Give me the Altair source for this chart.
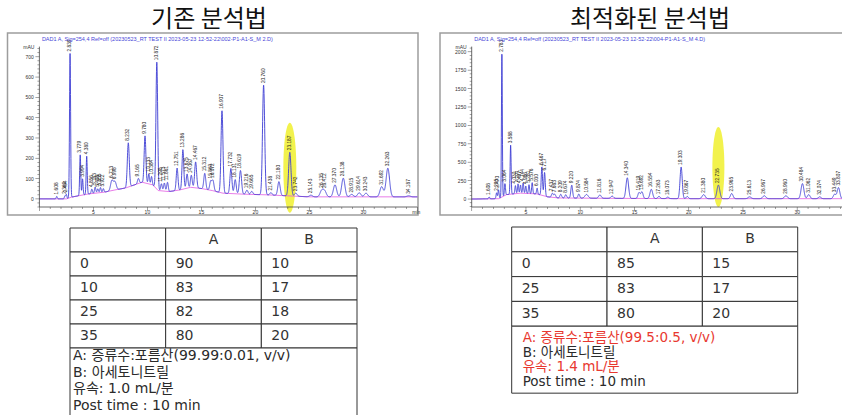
import numpy as np
import pandas as pd
import altair as alt

FONT_KR = "Noto Sans CJK KR"
FONT_TABLE = "DejaVu Sans, Noto Sans CJK KR"
FONT_AX = "Liberation Sans"

# ---------------- panel titles and detector headers ----------------
title_left = "기존 분석법"
title_right = "최적화된 분석법"
header_left = "DAD1 A, Sig=254,4 Ref=off (20230523_RT TEST II 2023-05-23 12-52-22\\002-P1-A1-S_M 2.D)"
header_right = "DAD1 A, Sig=254,4 Ref=off (20230523_RT TEST II 2023-05-23 12-52-22\\004-P1-A1-S_M 4.D)"

# ---------------- conventional method chromatogram ----------------
# retention time (min), peak height above baseline (mAU), peak width sigma (min)
left_rt = [1.608, 2.362, 2.494, 2.839, 3.779, 3.994, 4.380, 4.856, 5.163, 5.408,
           5.655, 5.922, 6.713, 6.998, 8.232, 9.165, 9.780, 10.133, 10.384, 10.872,
           11.298, 11.573, 11.861, 12.751, 13.286, 13.675, 14.067, 14.467, 15.312, 15.863,
           16.072, 16.907, 17.732, 18.131, 18.619, 19.216, 19.665, 20.760, 21.438, 22.180,
           23.187, 23.742, 25.143, 26.135, 26.412, 27.370, 28.138, 28.915, 29.614, 30.243,
           31.692, 32.263, 34.187]
left_height = [12, 15, 22, 710, 200, 80, 187, 22, 30, 20,
               25, 18, 50, 40, 218, 25, 232, 50, 40, 625,
               35, 40, 45, 110, 195, 70, 60, 128, 78, 45,
               50, 405, 124, 70, 116, 20, 15, 540, 12, 68,
               215, 15, 8, 30, 28, 59, 92, 12, 20, 18,
               50, 141, 5]
left_sigma = [0.05, 0.05, 0.05, 0.05, 0.05, 0.05, 0.05, 0.06, 0.06, 0.06,
              0.06, 0.06, 0.12, 0.12, 0.09, 0.08, 0.08, 0.06, 0.06, 0.08,
              0.07, 0.07, 0.07, 0.08, 0.08, 0.08, 0.08, 0.09, 0.09, 0.09,
              0.09, 0.09, 0.09, 0.09, 0.10, 0.10, 0.10, 0.10, 0.10, 0.11,
              0.11, 0.12, 0.14, 0.15, 0.15, 0.15, 0.15, 0.15, 0.15, 0.15,
              0.16, 0.16, 0.16]
# integration baseline knots (min, mAU)
left_base_t = [0, 2.5, 3.0, 4.5, 6.0, 7.0, 8.0, 9.5, 10.5, 11.0, 12.0, 13.0, 14.0, 15.0, 16.0, 17.0, 19.0, 21.0, 23.0, 25.0, 35.0]
left_base_v = [0, 0, 9, 24, 33, 44, 54, 82, 69, 41, 36, 44, 57, 51, 41, 28, 23, 20, 15, 10, 10]

# ---------------- optimized method chromatogram ----------------
right_rt = [1.608, 2.295, 2.470, 2.783, 3.064, 3.588, 4.030, 4.271, 4.497, 4.744,
            4.986, 5.281, 5.576, 6.030, 6.467, 6.717, 7.437, 7.663, 8.209, 8.674,
            9.220, 9.874, 10.584, 11.816, 12.947, 14.340, 15.419, 15.692, 16.554, 17.263,
            18.073, 19.303, 19.867, 21.380, 22.735, 23.965, 25.613, 26.967, 28.960, 30.484,
            31.062, 32.074, 33.449, 33.807]
right_height = [25, 80, 120, 1945, 160, 665, 110, 130, 110, 140,
                100, 120, 150, 80, 385, 320, 55, 45, 50, 45,
                175, 55, 50, 45, 30, 280, 80, 90, 125, 30,
                20, 430, 30, 55, 185, 70, 25, 40, 40, 205,
                55, 25, 60, 150]
right_sigma = [0.05, 0.05, 0.05, 0.04, 0.05, 0.045, 0.05, 0.05, 0.05, 0.05,
               0.05, 0.05, 0.05, 0.05, 0.06, 0.06, 0.08, 0.08, 0.08, 0.08,
               0.08, 0.08, 0.15, 0.12, 0.12, 0.12, 0.10, 0.10, 0.12, 0.10,
               0.10, 0.10, 0.10, 0.14, 0.13, 0.12, 0.14, 0.14, 0.14, 0.13,
               0.12, 0.12, 0.12, 0.12]
right_base_t = [0, 2.5, 3.2, 4.5, 6.0, 7.0, 8.0, 12.0, 20.0, 35.0]
right_base_v = [0, 5, 60, 80, 70, 30, 15, 10, 5, 5]

# ---------------- gradient tables ----------------
table_cols = ["", "A", "B"]
left_time = ["0", "10", "25", "35"]
left_a = [90, 83, 82, 80]
left_b = [10, 17, 18, 20]
left_notes = ["A: 증류수:포름산(99.99:0.01, v/v)", "B: 아세토니트릴", "유속: 1.0 mL/분", "Post time : 10 min"]
left_note_colors = ["#2b2b2b", "#2b2b2b", "#2b2b2b", "#2b2b2b"]

right_time = ["0", "25", "35"]
right_a = [85, 83, 80]
right_b = [15, 17, 20]
right_notes = ["A: 증류수:포름산(99.5:0.5, v/v)", "B: 아세토니트릴", "유속: 1.4 mL/분", "Post time : 10 min"]
right_note_colors = ["#e8382f", "#2b2b2b", "#e8382f", "#2b2b2b"]

AX_COLOR = "#444"


def signal(t, rt, height, sigma, knot_t, knot_v):
    """Detector trace: baseline plus the listed peaks."""
    t = np.asarray(t, dtype=float)
    out = np.interp(t, knot_t, knot_v)
    for r, h, s in zip(rt, height, sigma):
        out = out + h * np.exp(-0.5 * ((t - r) / s) ** 2)
    return out


def chromatogram(rt, height, sigma, knot_t, knot_v, x0, px_per_min, y_dom,
                 y_major, y_minor, header, frame_x, hl_rt, hl_v, hl_h, hl_w, show_min):
    t = np.round(np.arange(0, 35.0001, 0.01), 3)
    trace = pd.DataFrame({"t": t, "v": signal(t, rt, height, sigma, knot_t, knot_v)})
    base = pd.DataFrame({"t": knot_t, "v": knot_v})
    peaks = pd.DataFrame({"t": rt, "v": signal(rt, rt, height, sigma, knot_t, knot_v),
                          "label": [f"{r:.3f}" for r in rt]})

    xs = alt.Scale(domain=[0, 35], range=[x0, x0 + 35 * px_per_min], nice=False, zero=False)
    ys = alt.Scale(domain=y_dom, range=[207, 46.6], nice=False, zero=False)
    X = lambda f: alt.X(f, scale=xs, axis=None)
    Y = lambda f: alt.Y(f, scale=ys, axis=None)
    ymin, ymax = y_dom

    # ---- Chemstation-style axes built from the same scales ----
    axis_lines = pd.DataFrame({"t": [0, 0], "t2": [35, 0], "v": [ymin, ymin], "v2": [ymin, ymax]})
    x_ticks = pd.DataFrame({"t": list(range(0, 36)), "v": ymin})
    x_ticks["major"] = x_ticks["t"] % 5 == 0
    x_labels = pd.DataFrame({"t": [5, 10, 15, 20, 25, 30], "v": ymin})
    x_labels["text"] = x_labels["t"].astype(str)
    yv = list(range(int(np.ceil(ymin / y_minor)) * y_minor, int(ymax), y_minor))
    y_ticks = pd.DataFrame({"t": 0, "v": yv})
    y_ticks["major"] = y_ticks["v"] % y_major == 0
    y_labels = y_ticks[(y_ticks["major"]) & (y_ticks["v"] >= 0)].copy()
    y_labels["text"] = y_labels["v"].astype(str)
    units = pd.DataFrame({"t": [0, 34.9], "v": [ymax, ymin], "text": ["mAU", "min"]})

    small = dict(fontSize=5, font=FONT_AX, color="#333", baseline="middle")
    lines = alt.Chart(axis_lines).mark_rule(color=AX_COLOR, strokeWidth=0.8).encode(
        x=X("t:Q"), x2="t2:Q", y=Y("v:Q"), y2="v2:Q")
    xt_major = alt.Chart(x_ticks[x_ticks["major"]]).mark_tick(
        orient="vertical", size=4, thickness=0.7, yOffset=2, color=AX_COLOR).encode(x=X("t:Q"), y=Y("v:Q"))
    xt_minor = alt.Chart(x_ticks[~x_ticks["major"]]).mark_tick(
        orient="vertical", size=2, thickness=0.7, yOffset=1, color=AX_COLOR).encode(x=X("t:Q"), y=Y("v:Q"))
    yt_major = alt.Chart(y_ticks[y_ticks["major"]]).mark_tick(
        orient="horizontal", size=4, thickness=0.7, xOffset=-2, color=AX_COLOR).encode(x=X("t:Q"), y=Y("v:Q"))
    yt_minor = alt.Chart(y_ticks[~y_ticks["major"]]).mark_tick(
        orient="horizontal", size=2, thickness=0.7, xOffset=-1, color=AX_COLOR).encode(x=X("t:Q"), y=Y("v:Q"))
    xl = alt.Chart(x_labels).mark_text(align="center", dy=5, **small).encode(
        x=X("t:Q"), y=Y("v:Q"), text="text:N")
    yl = alt.Chart(y_labels).mark_text(align="right", dx=-5.5, **small).encode(
        x=X("t:Q"), y=Y("v:Q"), text="text:N")
    mau = alt.Chart(units.iloc[[0]]).mark_text(align="right", dx=-5, **small).encode(
        x=X("t:Q"), y=Y("v:Q"), text="text:N")

    one = pd.DataFrame({"header": [header]})
    frame = alt.Chart(one).mark_rect(fillOpacity=0, stroke="#9d9d9d", strokeWidth=1.5).encode(
        x=alt.value(frame_x[0]), x2=alt.value(frame_x[1]), y=alt.value(33), y2=alt.value(215))
    head = alt.Chart(one).mark_text(align="left", baseline="middle", fontSize=5.5,
                                    font=FONT_AX, color="#4646d8").encode(
        x=alt.value(x0 + 2.5), y=alt.value(38.5), text="header:N")

    ellipse = f"M0,-1 A{hl_w / hl_h:.3f},1 0 0 1 0,1 A{hl_w / hl_h:.3f},1 0 0 1 0,-1 Z"
    highlight = alt.Chart(pd.DataFrame({"t": [hl_rt], "v": [hl_v]})).mark_point(
        shape=ellipse, filled=True, size=hl_h * hl_h, color="#f1f13a", opacity=0.9,
        strokeWidth=0).encode(x=X("t:Q"), y=Y("v:Q"))

    base_line = alt.Chart(base).mark_line(color="#e25ce2", strokeWidth=0.8).encode(
        x=X("t:Q"), y=Y("v:Q"))
    trace_line = alt.Chart(trace).mark_line(color="#3c3cd4", strokeWidth=0.9).encode(
        x=X("t:Q"), y=Y("v:Q"))
    labels = alt.Chart(peaks).mark_text(angle=270, align="left", baseline="middle", dx=2,
                                        fontSize=4.8, font=FONT_AX, color="#222").encode(
        x=X("t:Q"), y=Y("v:Q"), text="label:N")
    layers = [frame, highlight, base_line, trace_line, labels, head,
              lines, xt_major, xt_minor, yt_major, yt_minor, xl, yl, mau]
    if show_min:
        layers.append(alt.Chart(units.iloc[[1]]).mark_text(align="center", dy=5, **small).encode(
            x=X("t:Q"), y=Y("v:Q"), text="text:N"))
    return alt.layer(*layers)


def gradient_table(times, a_vals, b_vals, notes, note_colors, x_range, top, row_h,
                   notes_end, note_y0, note_step, note_pad, note_size):
    n = len(times)
    cells = [{"x0": c, "x1": c + 1, "y0": r, "y1": r + 1} for r in range(n + 1) for c in range(3)]
    cells.append({"x0": 0, "x1": 3, "y0": n + 1, "y1": notes_end})
    cells = pd.DataFrame(cells)

    xs = alt.Scale(domain=[0, 3], range=list(x_range), nice=False, zero=False)
    ys = alt.Scale(domain=[0, notes_end], range=[top, top + notes_end * row_h], nice=False, zero=False)

    header = pd.DataFrame({"c": [1.5, 2.5], "r": [0.5, 0.5], "text": table_cols[1:]})
    body = []
    for i, (tm, a, b) in enumerate(zip(times, a_vals, b_vals)):
        for c, val in enumerate([tm, str(a), str(b)]):
            body.append({"c": c, "r": i + 1.5, "text": val})
    body = pd.DataFrame(body)
    note_df = pd.DataFrame({"c": [0] * len(notes),
                            "r": [note_y0 + k * note_step for k in range(len(notes))],
                            "text": notes, "color": note_colors})

    grid = alt.Chart(cells).mark_rect(fill="white", stroke="#333", strokeWidth=1).encode(
        x=alt.X("x0:Q", scale=xs, axis=None), x2="x1:Q",
        y=alt.Y("y0:Q", scale=ys, axis=None), y2="y1:Q")
    txt = dict(font=FONT_TABLE, baseline="middle")
    head_t = alt.Chart(header).mark_text(align="center", color="#333", fontSize=14, **txt).encode(
        x=alt.X("c:Q", scale=xs, axis=None), y=alt.Y("r:Q", scale=ys, axis=None), text="text:N")
    body_t = alt.Chart(body).mark_text(align="left", dx=10, color="#333", fontSize=14, **txt).encode(
        x=alt.X("c:Q", scale=xs, axis=None), y=alt.Y("r:Q", scale=ys, axis=None), text="text:N")
    note_t = alt.Chart(note_df).mark_text(align="left", dx=note_pad, fontSize=note_size, **txt).encode(
        x=alt.X("c:Q", scale=xs, axis=None), y=alt.Y("r:Q", scale=ys, axis=None),
        text="text:N", color=alt.Color("color:N", scale=None))
    return alt.layer(grid, head_t, body_t, note_t)


left_chrom = chromatogram(left_rt, left_height, left_sigma, left_base_t, left_base_v,
                          x0=39.4, px_per_min=10.8, y_dom=[-40, 750], y_major=100, y_minor=20,
                          header=header_left, frame_x=(7.5, 418),
                          hl_rt=left_rt[40], hl_v=153, hl_h=90, hl_w=13, show_min=True)
right_chrom = chromatogram(right_rt, right_height, right_sigma, right_base_t, right_base_v,
                           x0=471.7, px_per_min=10.85, y_dom=[-108, 2070], y_major=250, y_minor=50,
                           header=header_right, frame_x=(440, 870),
                           hl_rt=right_rt[34], hl_v=434, hl_h=80, hl_w=12, show_min=False)

left_table = gradient_table(left_time, left_a, left_b, left_notes, left_note_colors,
                            x_range=(70, 357), top=228, row_h=24, notes_end=8,
                            note_y0=5.33, note_step=0.695, note_pad=3, note_size=14)
right_table = gradient_table(right_time, right_a, right_b, right_notes, right_note_colors,
                             x_range=(511.7, 797.7), top=227, row_h=24.8, notes_end=6.7,
                             note_y0=4.48, note_step=0.59, note_pad=11, note_size=13.5)

titles = alt.Chart(pd.DataFrame({"text": [title_left, title_right], "px": [209, 650]})).mark_text(
    font=FONT_KR, fontSize=24, color="#111", align="center", baseline="alphabetic").encode(
    x=alt.X("px:Q", scale=alt.Scale(domain=[0, 842], range=[0, 842]), axis=None),
    y=alt.value(27), text="text:N")

chart = alt.layer(left_chrom, right_chrom, left_table, right_table, titles).resolve_scale(
    x="independent", y="independent"
).properties(
    width=842, height=415, padding=0,
    autosize=alt.AutoSizeParams(type="none"),
    background="white",
).configure_view(strokeWidth=0)

chart.save("out.html", embed_options={"renderer": "svg", "actions": False})
